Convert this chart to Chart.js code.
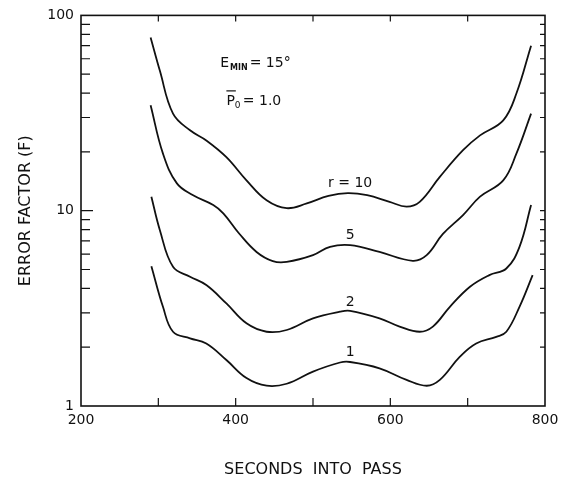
<!DOCTYPE html>
<html>
<head>
<meta charset="utf-8">
<script src="https://cdn.jsdelivr.net/npm/chart.js@4"></script>
<style>
  html, body { margin: 0; padding: 0; background: #fff; }
  #wrap { width: 566px; height: 480px; position: relative; }
</style>
</head>
<body>
<div id="wrap"><canvas id="errChart"></canvas></div>
<script>
// valores (segundos, fator de erro)
const tR10 = [290, 302, 319, 341, 362, 388, 414, 440, 466, 492, 520, 545, 570, 599, 621, 638, 664, 694, 716, 746, 763, 782];
const fR10 = [77, 52, 31.4, 25.8, 22.9, 18.8, 14.3, 11.3, 10.3, 10.9, 11.9, 12.3, 12.0, 11.1, 10.5, 11.1, 14.9, 20.4, 24.3, 29, 39.8, 70];

const tR5 = [290, 306, 324, 345, 371, 384, 405, 427, 448, 466, 500, 522, 548, 586, 629, 647, 668, 694, 716, 746, 763, 782];
const fR5 = [34.7, 19.6, 13.8, 12, 10.7, 9.7, 7.6, 6.15, 5.52, 5.47, 5.92, 6.53, 6.66, 6.15, 5.54, 5.92, 7.6, 9.5, 11.8, 14.3, 19.6, 31.4];

const tR2 = [291, 302, 319, 341, 362, 388, 414, 440, 466, 500, 535, 548, 586, 612, 638, 655, 677, 703, 728, 750, 767, 782];
const fR2 = [11.8, 7.95, 5.16, 4.59, 4.16, 3.35, 2.65, 2.40, 2.45, 2.81, 3.04, 3.07, 2.81, 2.55, 2.40, 2.55, 3.22, 4.08, 4.68, 5.06, 6.53, 10.7];

const tR1 = [291, 306, 319, 341, 362, 388, 414, 440, 466, 500, 535, 548, 586, 621, 647, 664, 690, 711, 737, 750, 767, 784];
const fR1 = [5.2, 3.22, 2.40, 2.22, 2.09, 1.72, 1.39, 1.27, 1.30, 1.50, 1.67, 1.68, 1.56, 1.36, 1.27, 1.36, 1.79, 2.09, 2.26, 2.40, 3.22, 4.68];

const curveLabels = ['r = 10', '5', '2', '1'];
const xTickLabels = [200, 400, 600, 800];
const yTickLabels = [1, 10, 100];

function pts(xs, ys) {
    return xs.map(function(x, i) { return { x: x, y: ys[i] }; });
}

const FONT = '"DejaVu Sans", sans-serif';

// moldura, marcas internas e anotações
const decorPlugin = {
    id: 'decor',
    afterDraw: function(chart) {
        const ctx = chart.ctx;
        const xs = chart.scales.x;
        const ys = chart.scales.y;
        const a = chart.chartArea;
        ctx.save();
        ctx.strokeStyle = '#111';
        ctx.lineWidth = 1.6;
        ctx.strokeRect(a.left, a.top, a.right - a.left, a.bottom - a.top);

        ctx.lineWidth = 1.2;
        // marcas do eixo x
        [300, 400, 500, 600, 700].forEach(function(v) {
            const px = xs.getPixelForValue(v);
            ctx.beginPath();
            ctx.moveTo(px, a.bottom); ctx.lineTo(px, a.bottom - 8);
            ctx.moveTo(px, a.top); ctx.lineTo(px, a.top + 6);
            ctx.stroke();
        });
        // marcas logarítmicas do eixo y
        [1, 10].forEach(function(dec) {
            for (let k = 2; k <= 10; k++) {
                const v = dec * k;
                if (v >= 100) continue;
                const py = ys.getPixelForValue(v);
                const len = (k === 10) ? 12 : 9;
                ctx.beginPath();
                ctx.moveTo(a.left, py); ctx.lineTo(a.left + len, py);
                ctx.moveTo(a.right, py); ctx.lineTo(a.right - 5, py);
                ctx.stroke();
            }
        });

        // rótulos das curvas
        ctx.fillStyle = '#111';
        ctx.textAlign = 'center';
        ctx.textBaseline = 'middle';
        ctx.font = '14px ' + FONT;
        const labelY = [13.8, 7.5, 3.4, 1.89];
        curveLabels.forEach(function(txt, i) {
            ctx.fillText(txt, xs.getPixelForValue(548), ys.getPixelForValue(labelY[i]));
        });

        // E_MIN = 15°
        ctx.textAlign = 'left';
        let x0 = xs.getPixelForValue(380);
        let y0 = ys.getPixelForValue(57);
        ctx.font = '14px ' + FONT;
        ctx.fillText('E', x0, y0);
        let w = ctx.measureText('E').width;
        ctx.font = 'bold 8px ' + FONT;
        ctx.fillText('MIN', x0 + w + 1, y0 + 5);
        let w2 = ctx.measureText('MIN').width;
        ctx.font = '14px ' + FONT;
        ctx.fillText('= 15°', x0 + w + w2 + 3, y0);

        // P0 = 1.0 com barra
        x0 = xs.getPixelForValue(388);
        y0 = ys.getPixelForValue(36.5);
        ctx.font = '14px ' + FONT;
        ctx.fillText('P', x0, y0);
        w = ctx.measureText('P').width;
        ctx.beginPath();
        ctx.moveTo(x0, y0 - 10); ctx.lineTo(x0 + w + 1, y0 - 10);
        ctx.stroke();
        ctx.font = '9px ' + FONT;
        ctx.fillText('0', x0 + w, y0 + 5);
        ctx.font = '14px ' + FONT;
        ctx.fillText('= 1.0', x0 + w + 8, y0);
        ctx.restore();
    }
};

function lineSet(label, xs, ys) {
    return {
        label: label,
        data: pts(xs, ys),
        borderColor: '#111',
        borderWidth: 1.8,
        pointRadius: 0,
        fill: false,
        tension: 0.4
    };
}

new Chart(document.getElementById('errChart'), {
    type: 'line',
    data: {
        datasets: [
            lineSet('r = 10', tR10, fR10),
            lineSet('r = 5', tR5, fR5),
            lineSet('r = 2', tR2, fR2),
            lineSet('r = 1', tR1, fR1)
        ]
    },
    options: {
        responsive: true,
        maintainAspectRatio: false,
        animation: false,
        layout: { padding: { top: 15, right: 21, left: 0, bottom: 0 } },
        plugins: {
            legend: { display: false },
            tooltip: { enabled: false }
        },
        scales: {
            x: {
                type: 'linear',
                min: 200,
                max: 800,
                afterBuildTicks: function(scale) {
                    scale.ticks = xTickLabels.map(function(v) { return { value: v }; });
                },
                afterFit: function(scale) { scale.height = 74; },
                grid: { display: false, drawTicks: false },
                border: { display: false },
                ticks: {
                    color: '#111',
                    padding: 6,
                    maxRotation: 0,
                    font: { family: FONT, size: 14 }
                },
                title: {
                    display: true,
                    text: 'SECONDS  INTO  PASS',
                    color: '#111',
                    padding: { top: 0, bottom: 1 },
                    font: { family: FONT, size: 16 }
                }
            },
            y: {
                type: 'logarithmic',
                min: 1,
                max: 100,
                afterBuildTicks: function(scale) {
                    scale.ticks = yTickLabels.map(function(v) { return { value: v }; });
                },
                afterFit: function(scale) { scale.width = 81; },
                grid: { display: false, drawTicks: false },
                border: { display: false },
                ticks: {
                    color: '#111',
                    padding: 7,
                    font: { family: FONT, size: 14 },
                    callback: function(v) { return String(v); }
                },
                title: {
                    display: true,
                    text: 'ERROR FACTOR (F)',
                    color: '#111',
                    padding: { top: 16, bottom: 0 },
                    font: { family: FONT, size: 16 }
                }
            }
        }
    },
    plugins: [decorPlugin]
});
</script>
</body>
</html>
